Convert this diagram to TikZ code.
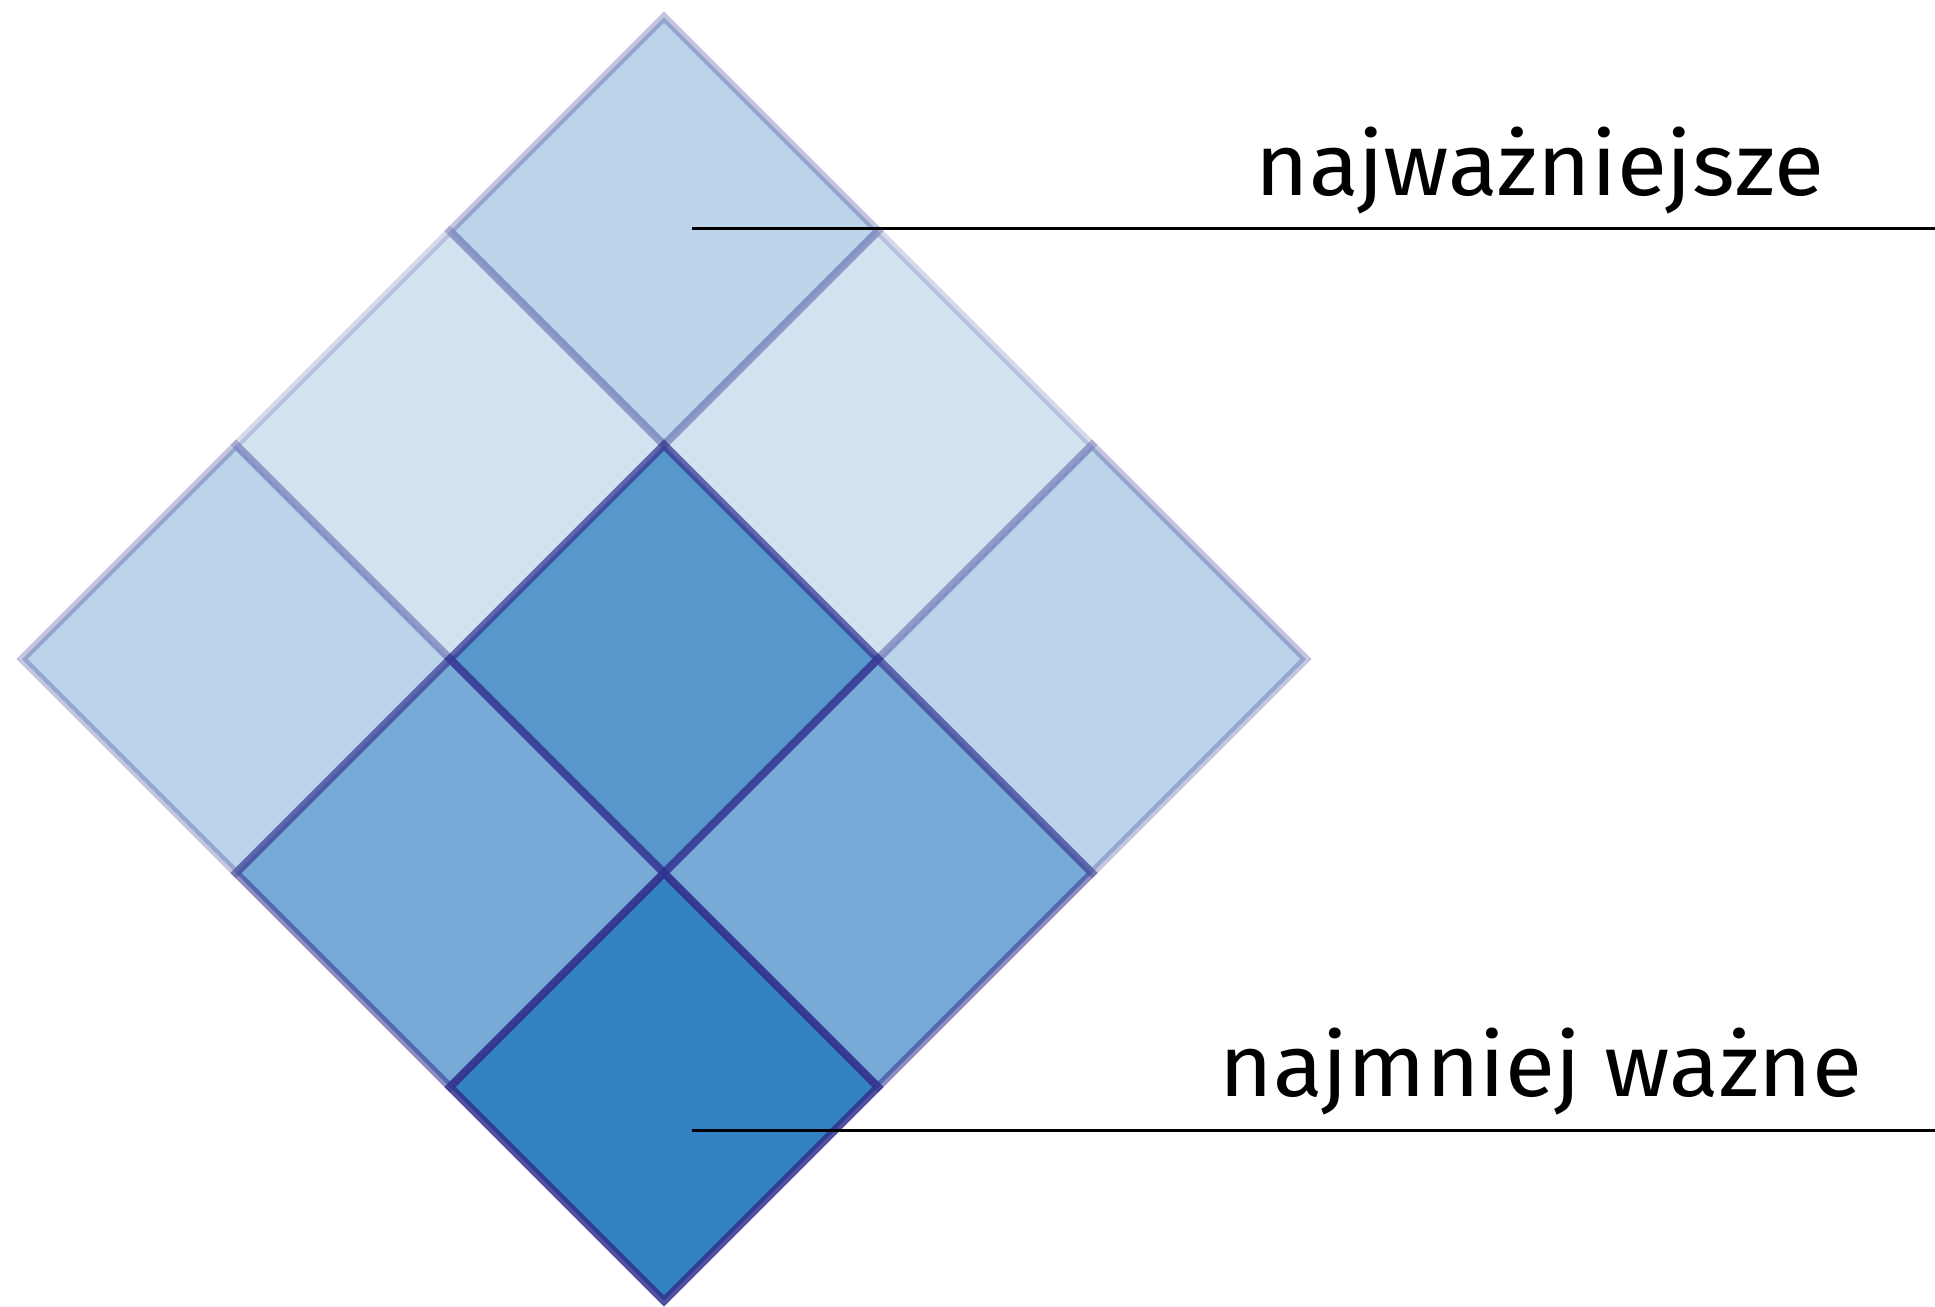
\documentclass[tikz,border=0pt]{standalone}
\usepackage{fontspec}
\setmainfont[FakeStretch=1.04]{Fira Sans}
\usepackage{tikz}
\usetikzlibrary{calc}
\usepackage{xcolor}
\definecolor{pNavy}{HTML}{33338F}
\definecolor{pPale}{HTML}{D1E2F0}
\definecolor{pLight}{HTML}{BBD4EA}
\definecolor{pMid}{HTML}{78AAD8}
\definecolor{pCore}{HTML}{5698CC}
\definecolor{pDeep}{HTML}{3282C4}

\begin{document}
\begin{tikzpicture}[x=0.02cm, y=-0.02cm,
  edge/.style={draw=pNavy, line width=0.16cm, line join=miter},
  leader/.style={draw=black, line width=0.06cm},
  caption/.style={font=\fontsize{50}{60}\selectfont, inner sep=0pt, anchor=base}]
  \useasboundingbox (0,0) rectangle (1935,1306);
  % cells: centre x / centre y / fill / stroke opacity
  \foreach \cx/\cy/\fc/\op in {664/231/pLight/0.28, 450/445/pPale/0.18, 878/445/pPale/0.18,
      236/659/pLight/0.28, 1092/659/pLight/0.28, 664/659/pCore/0.65,
      450/873/pMid/0.55, 878/873/pMid/0.55, 664/1087/pDeep/0.85}
    \fill[\fc] (\cx,\cy) ++(0,-214) -- ++(214,214) -- ++(-214,214) -- ++(-214,-214) -- cycle;
  % outlines on top
  \foreach \cx/\cy/\fc/\op in {664/231/pLight/0.28, 450/445/pPale/0.18, 878/445/pPale/0.18,
      236/659/pLight/0.28, 1092/659/pLight/0.28, 664/659/pCore/0.65,
      450/873/pMid/0.55, 878/873/pMid/0.55, 664/1087/pDeep/0.85}
    \draw[edge, draw opacity=\op] (\cx,\cy) ++(0,-214) -- ++(214,214) -- ++(-214,214) -- ++(-214,-214) -- cycle;
  % labels
  \node[caption] (most) at (1540,195) {najważniejsze};
  \node[caption] (least) at (1541,1096) {najmniej ważne};
  \coordinate (most-in) at (692,228);
  \coordinate (most-out) at (1935,228);
  \coordinate (least-in) at (692,1130);
  \coordinate (least-out) at (1935,1130);
  \draw[leader] (most-in) -- (most-out);
  \draw[leader] (least-in) -- (least-out);
\end{tikzpicture}
\end{document}
